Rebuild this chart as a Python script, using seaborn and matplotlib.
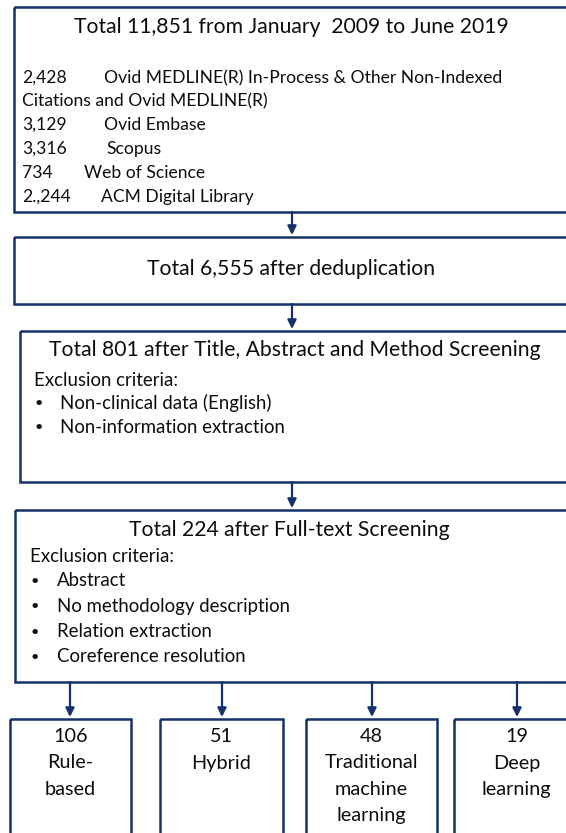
import matplotlib
matplotlib.use("Agg")
import matplotlib.pyplot as plt
import seaborn as sns
from matplotlib.patches import Rectangle

sns.set_theme(style="white")
plt.rcParams['font.family'] = ['Lato', 'DejaVu Sans']

# ---- data ----
total_title = "Total 11,851 from January  2009 to June 2019"
source_counts = ["2,428", "", "3,129", "3,316", "734", "2.,244"]
source_names = ["Ovid MEDLINE(R) In-Process & Other Non-Indexed",
                "Citations and Ovid MEDLINE(R)",
                "Ovid Embase", "Scopus", "Web of Science", "ACM Digital Library"]
dedup_title = "Total 6,555 after deduplication"
screen1_title = "Total 801 after Title, Abstract and Method Screening"
screen1_excl = ["Non-clinical data (English)", "Non-information extraction"]
screen2_title = "Total 224 after Full-text Screening"
screen2_excl = ["Abstract", "No methodology description",
                "Relation extraction", "Coreference resolution"]
method_counts = [106, 51, 48, 19]
method_names = [["Rule-", "based"], ["Hybrid"],
                ["Traditional", "machine", "learning"], ["Deep", "learning"]]

NAVY = "#15306b"
TXT = "#0d0d0d"

fig = plt.figure(figsize=(5.66, 8.33), dpi=100)
ax = fig.add_axes([0, 0, 1, 1])
ax.set_xlim(0, 566)
ax.set_ylim(833, 0)
ax.axis("off")

def box(x0, y0, x1, y1):
    ax.add_patch(Rectangle((x0, y0), x1 - x0, y1 - y0, fill=False,
                           edgecolor=NAVY, lw=1.8, clip_on=True))

def arrow(x, y0, y1):
    ax.annotate("", xy=(x, y1), xytext=(x, y0),
                arrowprops=dict(arrowstyle="-|>", color=NAVY, lw=1.6,
                                mutation_scale=13, shrinkA=0, shrinkB=0))

TS = 15.2   # title size
BS = 12.6   # source list size
ES = 13.4   # exclusion list size
MS = 14.3   # method box size

def txt(x, y, s, size, ha="left"):
    ax.text(x, y, s, ha=ha, va="center", fontsize=size, color=TXT)

# Box 1
box(14, 7, 590, 212)
txt(291, 27, total_title, TS, "center")
ys = [78, 101, 125, 149, 173, 197]
name_x = [104, 22, 104, 106, 84, 101]
for i, (c, n) in enumerate(zip(source_counts, source_names)):
    if c:
        txt(22, ys[i], c, BS)
    txt(name_x[i], ys[i], n, BS)
arrow(292, 212, 235)

# Box 2
box(14, 237, 590, 304)
txt(291, 269, dedup_title, TS, "center")
arrow(292, 304, 329)

# Box 3
box(20, 331, 590, 482)
txt(295, 350, screen1_title, TS, "center")
txt(34, 380, "Exclusion criteria:", ES)
for i, t in enumerate(screen1_excl):
    y = 403 + 24 * i
    txt(35, y, "•", ES - 3)
    txt(60, y, t, ES)
arrow(292, 482, 508)

# Box 4
box(15, 510, 590, 682)
txt(289, 530, screen2_title, TS, "center")
txt(30, 557, "Exclusion criteria:", ES)
for i, t in enumerate(screen2_excl):
    y = 581 + 25.3 * i
    txt(31, y, "•", ES - 3)
    txt(57, y, t, ES)

# Method boxes
bx = [(10, 131), (160, 283), (306, 437), (454, 579)]
ax_x = [70, 222, 372, 517]
for (x0, x1), axx, cnt, lines in zip(bx, ax_x, method_counts, method_names):
    arrow(axx, 682, 717)
    box(x0, 719, x1, 860)
    cx = (x0 + x1) / 2
    txt(cx, 737, str(cnt), MS, "center")
    for j, ln in enumerate(lines):
        txt(cx, 763 + 26.5 * j, ln, MS, "center")

fig.savefig("out.png", dpi=100, facecolor="white")
